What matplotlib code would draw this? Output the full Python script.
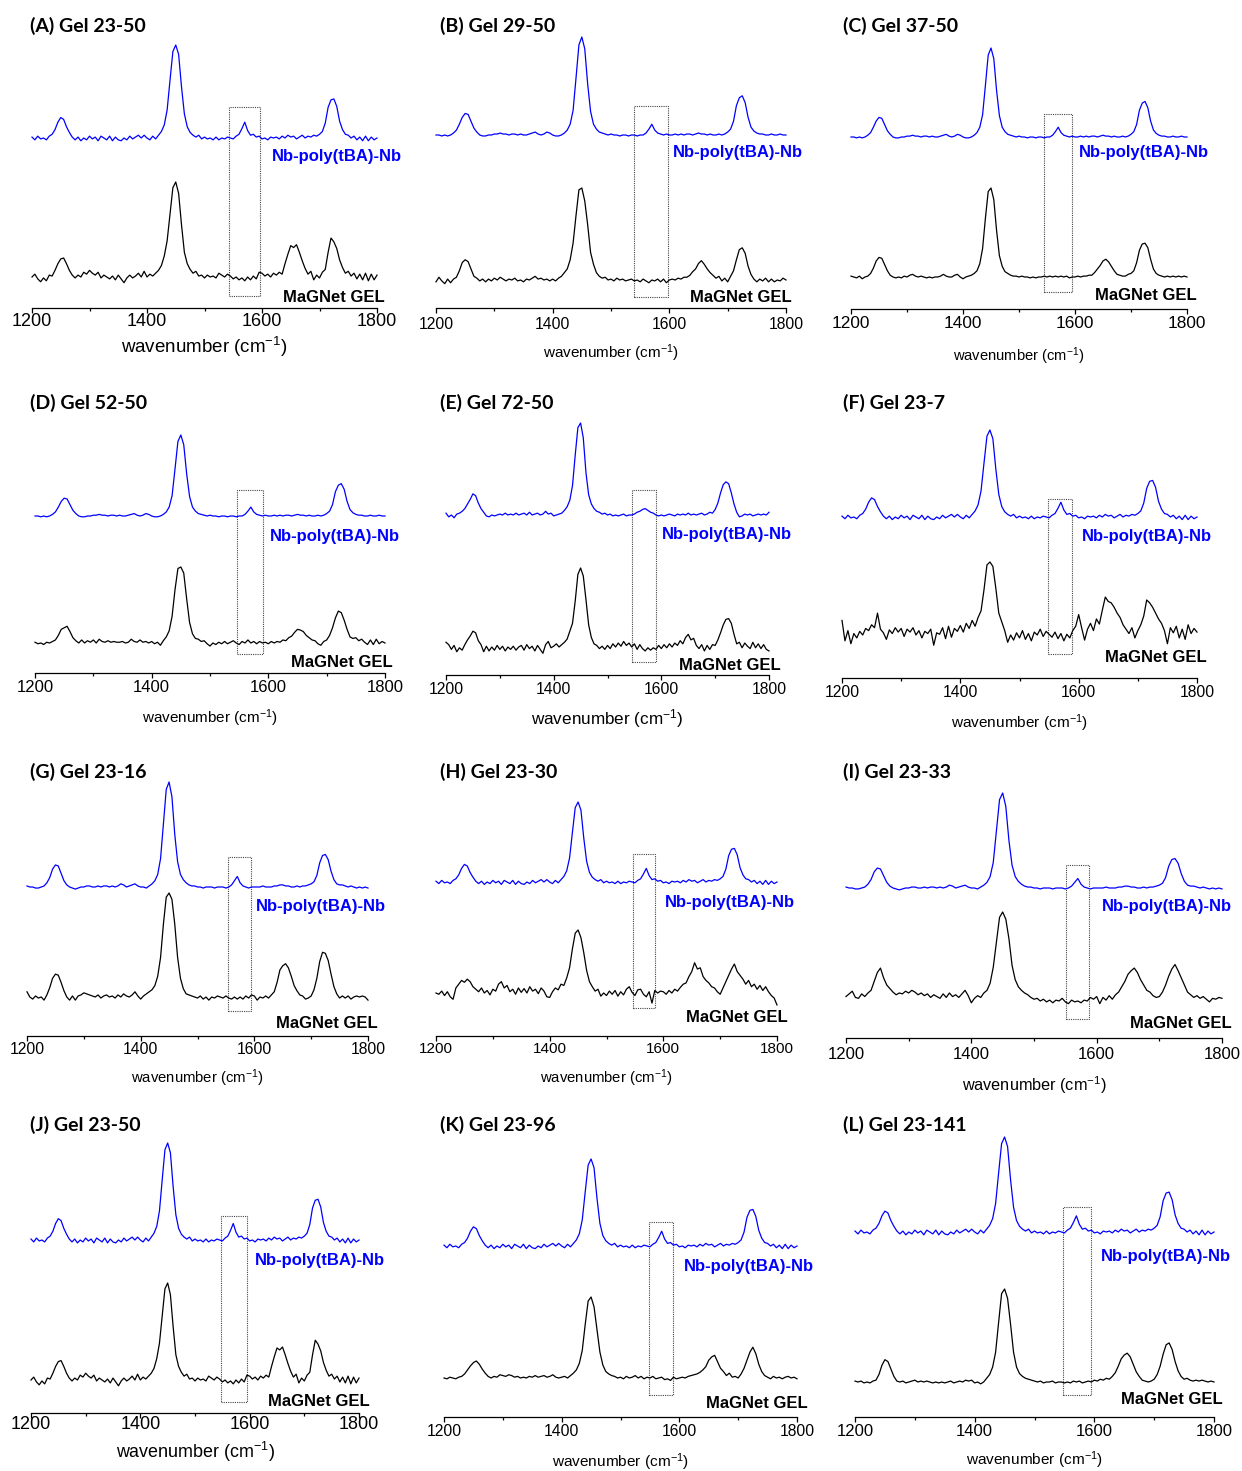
import numpy as np
import matplotlib
matplotlib.use("Agg")
import matplotlib.pyplot as plt
from matplotlib.patches import Rectangle

plt.rcParams['font.family'] = ['Liberation Sans', 'DejaVu Sans']
plt.rcParams['mathtext.fontset'] = 'custom'
plt.rcParams['mathtext.rm'] = 'Liberation Sans'
plt.rcParams['mathtext.default'] = 'regular'

# Raman shift axis (cm-1), one point every 5 cm-1
wavenumber = np.arange(1200, 1805, 5)

# intensities, in % of the 1450 cm-1 band (baseline = 0)
# rows: 1200-1295, 1300-1395, 1400-1495, 1500-1595, 1600-1695, 1700-1795, 1800
blue_noisy = [1, -2, 2, -1, 0, -2, 2, 4, 9, 17, 22, 20, 12, 6, 1, -2, 1, -3, 0, -2,
              2, -1, 1, -3, 2, 0, -2, 2, -3, 1, -2, -3, 0, -2, 2, -1, 1, 3, 0, 3,
              0, -2, 2, -1, 3, 7, 14, 30, 62, 93, 100, 90, 55, 26, 12, 6, 3, 1, 3, -1,
              1, -1, 0, -2, 1, -2, 0, -1, 1, 0, -1, 2, 4, 10, 17, 8, 3, 4, 1, 2,
              -1, 0, -2, 1, 0, 1, -1, 2, 0, 3, 1, 2, -1, 1, 3, 0, 2, 1, 3, 2,
              4, 7, 16, 33, 41, 42, 34, 18, 9, 4, 3, 0, 2, -2, 1, -3, 2, -3, 1, -2,
              0]
blue_smooth = [0, 0, -1, 0, -1, 0, 2, 5, 11, 18, 22, 21, 14, 7, 3, 0, -1, -1, 0, 0,
               1, 1, 2, 1, 1, 0, 1, 1, 0, 1, 0, 0, 1, 2, 3, 1, 0, 1, 3, 2,
               0, -1, -1, 0, 2, 5, 11, 25, 58, 92, 100, 88, 52, 24, 11, 6, 3, 2, 1, 0,
               1, 0, 0, -1, 0, 0, -1, 0, 0, -1, 0, 0, 2, 6, 11, 5, 2, 1, 0, 1,
               0, 0, 1, 0, 1, 0, 1, 1, 0, 1, 2, 1, 1, 0, 1, 0, 0, 1, 0, 1,
               3, 6, 14, 30, 38, 40, 33, 18, 8, 4, 2, 1, 1, 0, 0, 1, 0, 0, 1, 0,
               0]
blue_smooth_b = [1, 0, 0, -1, -1, 0, 1, 4, 9, 17, 21, 20, 13, 6, 2, 0, -1, -2, -1, 0,
                 0, 1, 1, 0, 0, 1, 0, 1, 1, 0, 1, 0, 1, 3, 2, 0, 1, 2, 3, 1,
                 0, 0, -1, 1, 3, 6, 12, 27, 60, 93, 100, 86, 50, 24, 12, 7, 4, 2, 1, 1,
                 0, 0, -1, 0, 0, 0, -1, 0, 0, 0, -1, 0, 2, 6, 10, 4, 1, 0, -1, 0,
                 0, 0, 0, 1, 0, 0, 0, 1, 1, 2, 2, 1, 1, 0, 0, 1, 0, 1, 1, 2,
                 3, 5, 11, 23, 30, 31, 26, 15, 7, 3, 2, 2, 1, 0, 1, 0, -1, 0, -1, 0,
                 -1]
blue_E = [2, -2, 0, -3, 1, 2, 4, 7, 12, 17, 23, 21, 13, 7, 3, -1, -2, 0, -1, 0,
          1, 0, 2, 0, 1, 0, 2, 0, 1, 2, 0, 3, 0, 1, 2, 0, 1, 4, 1, 2,
          -1, 0, 1, 2, 5, 9, 16, 32, 65, 95, 100, 84, 46, 22, 12, 7, 4, 3, 1, 2,
          0, 1, -1, 0, -1, 0, 1, -1, 0, 0, 1, 3, 4, 6, 7, 5, 3, 2, 0, -1,
          0, -1, 0, 1, 0, -1, 1, 0, 1, 0, 2, 0, 1, 0, 1, 2, 0, 1, 3, 2,
          6, 13, 24, 33, 36, 34, 24, 12, 3, -2, -1, 1, 0, 1, -1, 0, 1, 0, 1, 0,
          3]

black_A = [0, 3, -2, -5, -1, -4, 2, 1, 7, 14, 19, 20, 14, 7, 2, -1, 2, 0, 5, 3,
           7, 4, 2, 5, -1, 2, 0, -2, 1, -3, 2, -2, -6, -1, 2, -1, 1, 4, 0, 6,
           0, 3, 1, 4, 7, 12, 22, 38, 66, 94, 100, 88, 55, 26, 14, 8, 4, 6, 1, 2,
           -1, 2, 0, 1, -1, 4, 2, 0, 3, 1, -2, 0, -3, -1, -4, 0, -3, 1, -2, 5,
           4, 1, 3, 0, 4, 2, 5, 3, 14, 24, 33, 31, 34, 26, 17, 9, 3, 6, -3, 2,
           -1, 5, 8, 26, 41, 37, 30, 18, 10, 4, 6, 1, 4, -2, 3, -3, 4, -4, 3, -3,
           2]
black_B = [-2, 3, -1, -4, 1, -3, 1, 3, 10, 19, 22, 20, 12, 4, 2, -1, 1, -2, 1, -1,
           2, 0, 3, 1, -1, 1, 0, 2, -1, 0, -2, 1, 0, 2, 4, 1, 2, 0, 1, -1,
           1, -1, 2, 4, 8, 12, 22, 40, 70, 98, 100, 86, 60, 30, 17, 8, 4, 2, 3, 0,
           1, -1, 2, 0, 1, -1, 0, 1, -1, 0, -2, 1, -1, -3, 0, -1, 1, -2, 1, -3,
           0, 1, 0, 2, 1, 3, 3, 5, 9, 12, 18, 21, 17, 12, 8, 5, 2, 4, -1, 2,
           -2, 4, 10, 22, 33, 35, 29, 15, 6, 1, -2, 1, -1, 2, -2, 1, -2, 0, -1, 2,
           0]
black_C = [1, 0, -1, 1, -2, 0, 1, 4, 10, 18, 22, 21, 14, 7, 2, 0, -1, 0, -1, 1,
           0, 2, 3, 1, 0, 1, 0, -1, 0, -1, 0, 0, 1, 3, 1, 0, 0, 2, 3, 0,
           -2, 0, 1, 2, 4, 7, 15, 32, 66, 96, 100, 87, 52, 24, 12, 6, 4, 2, 1, 1,
           0, 1, 0, 0, -1, 0, -1, 0, 0, 1, 0, 1, 0, 1, 0, 1, 0, 1, -1, 0,
           0, 1, 0, 1, 1, 2, 2, 5, 9, 13, 18, 20, 17, 12, 7, 3, 2, 1, 1, 3,
           4, 7, 16, 30, 37, 38, 33, 20, 9, 4, 2, 1, 0, 1, 0, 1, 0, 1, 0, 1,
           0]
black_D = [1, -1, 0, -2, 1, 0, 2, 4, 10, 18, 20, 22, 15, 7, 3, 0, 4, 0, 3, 1,
           4, 0, 5, 2, 1, 3, 1, 2, 1, 1, 2, 0, 1, 5, 2, 1, 4, 1, 2, 0,
           2, -1, 1, -3, 3, 8, 16, 35, 70, 98, 100, 92, 58, 27, 12, 6, 5, 2, 3, -1,
           -4, 0, -2, 1, -1, 2, -1, 1, 3, 0, -2, 2, 0, 4, 0, 2, -1, 2, 0, 1,
           -1, 2, 0, 2, 1, 4, 3, 7, 9, 14, 18, 17, 15, 10, 7, 4, 3, -1, -3, 2,
           4, 10, 20, 33, 42, 40, 30, 18, 8, 6, 7, 3, 5, 1, -2, 4, -2, 5, -1, 2,
           0]
black_E = [6, 3, -3, 2, -6, -1, -4, 3, 9, 14, 20, 18, 8, 3, -6, 1, -5, 0, -4, 2,
           -3, 1, -5, 0, -3, 1, -4, 0, 2, -4, 3, -2, 1, -5, 2, -3, -8, 3, 7, -1,
           1, 4, 0, 3, 6, 10, 20, 30, 58, 92, 100, 90, 60, 28, 12, 4, 2, -2, 1, -3,
           2, -2, 4, 0, 5, 1, 7, 2, 5, 0, 4, -3, 3, -2, -5, -1, -4, -1, -3, 2,
           -2, 3, -1, 4, 0, 5, 2, 8, 4, 12, 16, 9, 11, 2, -2, 3, -5, 2, -3, 3,
           2, 9, 18, 28, 35, 36, 30, 16, 4, 6, -1, 5, 1, -2, 6, -1, 4, -2, 3, -3,
           -5]
black_F = [20, -8, 6, -12, 2, -4, 5, 0, 9, 6, 14, 10, 30, 8, 3, -6, 7, 2, 10, 4,
           9, -2, 8, 4, 10, 0, 6, -4, 5, 2, 8, -14, 3, 1, 10, -5, 12, -3, 9, 5,
           13, 4, 16, 9, 20, 12, 24, 33, 62, 96, 100, 94, 64, 30, 18, 6, -10, 0, -7, 3,
           -4, 6, -6, 2, -8, 4, 0, 8, -2, 5, 1, -3, 4, -5, 2, -8, 1, -4, 6, 12,
           28, 10, -7, 8, 16, 6, 22, 15, 34, 52, 46, 44, 38, 30, 24, 14, 8, 2, 10, -4,
           6, 14, 26, 48, 44, 38, 30, 22, 16, 6, -12, 10, 3, 12, -4, 8, -6, 14, 2, 9,
           4]
black_G = [5, 0, -2, 1, -1, 0, -3, 2, 9, 18, 22, 21, 14, 6, 0, -3, 1, -3, 1, 2,
           4, 3, 2, 1, 0, 2, -1, 1, 2, 0, 1, -1, 2, 0, 3, 1, 0, 2, 5, 1,
           -2, 1, 3, 5, 7, 11, 20, 38, 70, 96, 100, 94, 70, 38, 18, 8, 3, 2, 1, 0,
           -1, 1, -2, 0, -3, 0, -1, 1, 0, -1, 1, -1, -2, 0, -2, 0, -2, 1, -1, 2,
           1, -3, 0, -1, 1, -1, 2, 5, 14, 26, 30, 32, 28, 20, 11, 6, 2, 1, -2, -1,
           1, 7, 18, 34, 43, 42, 35, 22, 10, 3, -1, 1, -1, 1, -2, 0, 1, 0, 1, 0,
           -3]
black_H = [0, -2, 3, -4, 2, -6, -10, 8, 14, 20, 17, 22, 18, 10, 6, 2, 8, 0, 4, -3,
           6, 3, 14, 18, 8, 12, 2, 6, -2, 8, 1, 7, 0, 10, 3, 6, -1, 8, 3, -6,
           -7, 2, 8, 5, 14, 12, 24, 40, 70, 95, 100, 88, 64, 36, 18, 10, 3, 6, -5, 0,
           -4, 3, -2, 4, -5, 2, -3, 6, 10, 1, -4, 5, 6, -2, -6, 2, -16, 4, 0, 3,
           2, -2, 4, 0, 6, 3, 9, 14, 16, 26, 34, 48, 38, 40, 26, 20, 16, 10, 8, 2,
           -2, 8, 18, 28, 38, 46, 34, 28, 22, 14, 20, 10, 14, 6, 12, 4, 10, 2, -4, -8,
           -19]
black_I = [5, 8, 11, 4, 3, 8, 5, 9, 12, 22, 32, 37, 26, 18, 14, 10, 7, 9, 8, 11,
           9, 12, 10, 7, 9, 6, 8, 4, 7, 5, 3, 8, 4, 9, 5, 7, 4, 8, 12, 6,
           -2, 3, 6, 4, 9, 12, 20, 38, 66, 94, 100, 92, 70, 40, 24, 16, 12, 9, 7, 4,
           2, 3, 0, 2, -1, 1, -2, 1, 0, 3, -1, -3, 1, -1, 0, -2, 1, 0, 4, 2,
           5, -3, 4, 1, 6, 2, 7, 10, 16, 22, 30, 34, 37, 32, 24, 18, 12, 10, 6, 4,
           5, 10, 18, 28, 36, 41, 34, 26, 18, 10, 7, 4, 6, 3, 5, 2, -1, 3, 2, 4,
           3]
black_K = [0, -1, 1, 0, -1, 1, 2, 5, 10, 15, 19, 21, 17, 11, 6, 2, 0, 2, 1, 4,
           3, 2, 4, 3, 1, 2, 0, 1, 0, 2, 1, 3, 1, 2, 3, 1, 2, 4, 1, 0,
           1, 2, 0, 3, 6, 10, 18, 34, 66, 95, 100, 88, 60, 32, 16, 8, 5, 3, 2, 0,
           1, -1, 2, 0, 1, 3, 0, 2, -1, 1, 0, 2, -1, 0, 1, -2, -1, -3, 1, -1,
           0, 1, 0, 2, 3, 4, 5, 7, 10, 14, 22, 26, 28, 20, 12, 8, 3, 6, 1, 2,
           0, 5, 12, 22, 32, 38, 30, 17, 8, 3, 1, -1, 2, 0, 1, -1, 1, 2, 0, 1,
           -1]
black_L = [1, 0, 1, -1, 0, -1, 1, 2, 8, 18, 24, 22, 14, 6, 1, 0, 1, -1, 0, 1,
           2, 0, 1, 0, 1, 0, -1, 0, -1, 0, -1, 0, 1, -1, 0, 1, 0, 2, 1, 2,
           -1, 0, -2, 0, 4, 8, 16, 32, 64, 95, 100, 90, 62, 32, 16, 9, 6, 4, 3, 2,
           1, 0, 1, -1, 0, 0, 1, -1, 0, 0, -1, 0, -1, 1, 0, 1, -1, 0, 1, 0,
           2, 1, 3, 2, 4, 3, 6, 10, 17, 25, 29, 31, 27, 19, 11, 6, 2, 1, 0, 1,
           3, 8, 17, 30, 40, 42, 35, 22, 12, 6, 3, 4, 2, 1, 2, 1, 2, 1, 0, 1,
           0]

panel_keys = ['A', 'B', 'C', 'D', 'E', 'F', 'G', 'H', 'I', 'J', 'K', 'L']
panel_titles = ['(A) Gel 23-50', '(B) Gel 29-50', '(C) Gel 37-50', '(D) Gel 52-50',
                '(E) Gel 72-50', '(F) Gel 23-7', '(G) Gel 23-16', '(H) Gel 23-30',
                '(I) Gel 23-33', '(J) Gel 23-50', '(K) Gel 23-96', '(L) Gel 23-141']
panel_blue = [blue_noisy, blue_smooth, blue_smooth, blue_smooth, blue_E, blue_noisy,
              blue_smooth_b, blue_noisy, blue_smooth_b, blue_noisy, blue_noisy, blue_noisy]
panel_black = [black_A, black_B, black_C, black_D, black_E, black_F,
               black_G, black_H, black_I, black_A, black_K, black_L]
box_range = [(1542, 1597), (1540, 1597), (1545, 1595), (1547, 1590), (1545, 1590), (1549, 1589),
             (1553, 1594), (1546, 1586), (1551, 1588), (1547, 1596), (1548, 1589), (1548, 1595)]

# layout in pixels: x of 1200/1800, axis line y, blue base/peak y, black base/peak y,
# box top/bottom y, label anchors, title anchor, font sizes, x-label y, tick label offset
layout = {
    'A': dict(x0=32, x1=377, axis=308, bb=138, bp=45, kb=277, kp=182, bt=107, bbot=296,
              lb=(402, 157), lk=(385, 297), ti=(30, 26), tick=13.0, xl=13.5, xly=347, off=14),
    'B': dict(x0=436, x1=786, axis=308, bb=135, bp=37, kb=280, kp=188, bt=106, bbot=297,
              lb=(803, 153), lk=(792, 298), ti=(440, 26), tick=11.3, xl=11.0, xly=353, off=17),
    'C': dict(x0=851, x1=1187, axis=309, bb=137, bp=48, kb=277, kp=188, bt=114, bbot=292,
              lb=(1209, 153), lk=(1197, 296), ti=(843, 26), tick=12.4, xl=10.6, xly=356, off=16),
    'D': dict(x0=35, x1=385, axis=673, bb=516, bp=435, kb=643, kp=567, bt=490, bbot=654,
              lb=(400, 537), lk=(393, 663), ti=(30, 403), tick=12.0, xl=11.0, xly=718, off=15),
    'E': dict(x0=446, x1=769, axis=675, bb=515, bp=423, kb=647, kp=568, bt=490, bbot=662,
              lb=(792, 534), lk=(781, 665), ti=(440, 403), tick=11.3, xl=12.3, xly=719, off=15),
    'F': dict(x0=842, x1=1197, axis=678, bb=517, bp=430, kb=635, kp=562, bt=499, bbot=654,
              lb=(1212, 537), lk=(1207, 658), ti=(843, 403), tick=11.3, xl=11.1, xly=723, off=15),
    'G': dict(x0=27, x1=368, axis=1036, bb=887, bp=782, kb=997, kp=893, bt=857, bbot=1011,
              lb=(386, 906), lk=(378, 1023), ti=(30, 772), tick=11.3, xl=10.7, xly=1078, off=14),
    'H': dict(x0=436, x1=777, axis=1036, bb=882, bp=802, kb=993, kp=930, bt=854, bbot=1008,
              lb=(795, 902), lk=(788, 1017), ti=(440, 772), tick=11.0, xl=10.7, xly=1078, off=14),
    'I': dict(x0=846, x1=1222, axis=1038, bb=888, bp=793, kb=1001, kp=912, bt=865, bbot=1019,
              lb=(1232, 907), lk=(1232, 1023), ti=(843, 772), tick=12.0, xl=11.7, xly=1085, off=17),
    'J': dict(x0=31, x1=359, axis=1413, bb=1240, bp=1143, kb=1380, kp=1283, bt=1216, bbot=1402,
              lb=(385, 1261), lk=(370, 1402), ti=(30, 1125), tick=13.0, xl=12.9, xly=1452, off=12),
    'K': dict(x0=444, x1=797, axis=1417, bb=1246, bp=1159, kb=1378, kp=1297, bt=1222, bbot=1395,
              lb=(814, 1267), lk=(808, 1403), ti=(440, 1125), tick=11.3, xl=11.1, xly=1462, off=15),
    'L': dict(x0=855, x1=1214, axis=1417, bb=1232, bp=1137, kb=1382, kp=1289, bt=1207, bbot=1395,
              lb=(1231, 1257), lk=(1223, 1400), ti=(843, 1125), tick=12.0, xl=11.1, xly=1460, off=15),
}

W, H = 1242, 1471
fig = plt.figure(figsize=(W / 100, H / 100), dpi=100)
BLUE = '#0000ff'


def fx(px):
    return px / W


def fy(py):
    return 1 - py / H


for key, title, blue, black, (xlo, xhi) in zip(panel_keys, panel_titles, panel_blue,
                                               panel_black, box_range):
    L = layout[key]
    top = L['ti'][1] + 14
    h = L['axis'] - top
    ax = fig.add_axes([fx(L['x0']), fy(L['axis']), (L['x1'] - L['x0']) / W, h / H])
    ax.set_xlim(1200, 1800)
    ax.set_ylim(0, h)

    yb = (L['axis'] - L['bb']) + (L['bb'] - L['bp']) * np.array(blue) / 100.0
    yk = (L['axis'] - L['kb']) + (L['kb'] - L['kp']) * np.array(black) / 100.0
    ax.plot(wavenumber, yb, color=BLUE, lw=0.9, clip_on=False)
    ax.plot(wavenumber, yk, color='black', lw=0.9, clip_on=False)

    ax.add_patch(Rectangle((xlo, L['axis'] - L['bbot']), xhi - xlo, L['bbot'] - L['bt'],
                           fill=False, ec='#444444', lw=0.8, ls=(0, (1, 1))))

    for s in ['top', 'left', 'right']:
        ax.spines[s].set_visible(False)
    ax.spines['bottom'].set_linewidth(0.9)
    ax.set_yticks([])
    ax.set_xticks([1200, 1400, 1600, 1800])
    ax.set_xticks([1300, 1500, 1700], minor=True)
    em = L['tick'] / 0.72
    pad_px = L['off'] - 0.5 * em - 5
    ax.tick_params(axis='x', which='major', direction='out', length=3.6, width=0.9,
                   labelsize=L['tick'], pad=pad_px * 0.72)
    ax.tick_params(axis='x', which='minor', direction='out', length=2.2, width=0.9)

    fig.text(fx((L['x0'] + L['x1']) / 2), fy(L['xly']), 'wavenumber (cm$^{-1}$)',
             fontsize=L['xl'], ha='center', va='center')
    fig.text(fx(L['ti'][0]), fy(L['ti'][1]), title, family=['Lato', 'DejaVu Sans'],
             fontsize=14, fontweight='bold', ha='left', va='center')
    fig.text(fx(L['lb'][0]), fy(L['lb'][1]), 'Nb-poly(tBA)-Nb', color=BLUE,
             fontsize=12.0, fontweight='bold', ha='right', va='center')
    fig.text(fx(L['lk'][0]), fy(L['lk'][1]), 'MaGNet GEL', color='black',
             fontsize=12.0, fontweight='bold', ha='right', va='center')

fig.savefig('out.png', dpi=100)
